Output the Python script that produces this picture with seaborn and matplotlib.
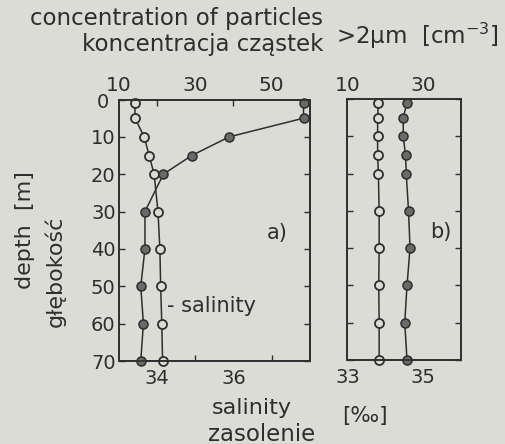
import matplotlib
matplotlib.use("Agg")
import matplotlib.pyplot as plt
import matplotlib.transforms as mtransforms
import seaborn as sns

# depth of samples [m]
depth = [1, 5, 10, 15, 20, 30, 40, 50, 60, 70]

# a) particle concentration >2um [cm-3] and salinity [permil]
a_conc = [58.3, 58.3, 38.9, 29.1, 21.7, 16.9, 16.9, 15.8, 16.5, 15.8]
a_sal = [33.43, 33.43, 33.67, 33.80, 33.93, 34.03, 34.08, 34.10, 34.13, 34.15]

# b)
b_conc = [25.8, 24.8, 24.8, 25.4, 25.6, 26.2, 26.6, 25.8, 25.2, 25.8]
b_sal = [33.82, 33.80, 33.80, 33.80, 33.82, 33.84, 33.84, 33.83, 33.84, 33.84]

depth_ticks = [0, 10, 20, 30, 40, 50, 60, 70]

bg = "#dcdcd6"
ink = "#2e2e2e"

sns.set_theme(style="ticks")
plt.rcParams.update({
    "font.family": ["DejaVu Sans"],
    "font.size": 14,
    "text.color": ink,
    "axes.edgecolor": ink,
    "axes.linewidth": 1.2,
    "xtick.color": ink,
    "ytick.color": ink,
    "xtick.labelcolor": ink,
    "ytick.labelcolor": ink,
})

fig = plt.figure(figsize=(5.05, 4.44), dpi=100, facecolor=bg)

ax_a = fig.add_axes([0.2347, 0.1869, 0.3792, 0.589])
ax_b = fig.add_axes([0.6881, 0.1892, 0.2238, 0.5878])

open_kw = dict(marker="o", markersize=6.5, markerfacecolor=bg,
               markeredgecolor=ink, markeredgewidth=1.3, color=ink,
               linewidth=1.1, clip_on=False)
fill_kw = dict(marker="o", markersize=6.5, markerfacecolor="#6a6a6a",
               markeredgecolor=ink, markeredgewidth=1.1, color=ink,
               linewidth=1.1, clip_on=False)


def setup(ax, sal_lim, conc_lim, ylabels):
    ax.set_facecolor("none")
    ax.set_xlim(*sal_lim)
    ax.set_ylim(70, 0)
    top = ax.twiny()
    top.set_facecolor("none")
    top.set_xlim(*conc_lim)
    for a in (ax, top):
        for s in a.spines.values():
            s.set_color(ink)
            s.set_linewidth(1.2)
    ax.set_yticks(depth_ticks)
    ax.set_yticklabels(depth_ticks if ylabels else [])
    ax.tick_params(axis="y", direction="in", length=4, width=1, left=True,
                   right=True, labelsize=14, pad=2)
    ax.set_xlabel("")
    ax.set_ylabel("")
    top.set_xlabel("")
    return top


top_a = setup(ax_a, (33, 38), (10, 60), True)
top_b = setup(ax_b, (33, 36), (10, 40), False)

# salinity (bottom) and concentration (top) labels, ticks drawn as minor
for ax, labels, ticks in ((ax_a, [34, 36], [34, 35, 36, 37]), (ax_b, [33, 35], [35])):
    ax.set_xticks(labels)
    ax.tick_params(axis="x", which="major", length=0, labelsize=14, pad=6)
    ax.set_xticks(ticks, minor=True)
    ax.tick_params(axis="x", which="minor", direction="in", length=4, width=1)
for top, labels, ticks in ((top_a, [10, 30, 50], [20, 30, 40, 50]), (top_b, [10, 30], [30])):
    top.set_xticks(labels)
    top.tick_params(axis="x", which="major", length=0, labelsize=14.5, pad=3)
    top.set_xticks(ticks, minor=True)
    top.tick_params(axis="x", which="minor", direction="in", length=4, width=1)

# the "0" depth label sits a little left, clear of the "10" above it
zero = ax_a.get_yticklabels()[0]
zero.set_transform(zero.get_transform()
                   + mtransforms.ScaledTranslation(-5 / 72, -1 / 72, fig.dpi_scale_trans))

sns.lineplot(x=a_sal, y=depth, ax=ax_a, sort=False, estimator=None, **open_kw)
sns.lineplot(x=a_conc, y=depth, ax=top_a, sort=False, estimator=None, **fill_kw)
sns.lineplot(x=b_sal, y=depth, ax=ax_b, sort=False, estimator=None, **open_kw)
sns.lineplot(x=b_conc, y=depth, ax=top_b, sort=False, estimator=None, **fill_kw)
for a in (ax_a, ax_b):
    a.set_ylim(70, 0)

ax_a.text(0.83, 0.49, "a)", transform=ax_a.transAxes, fontsize=15,
          ha="center", va="center", color=ink)
ax_b.text(0.83, 0.49, "b)", transform=ax_b.transAxes, fontsize=15,
          ha="center", va="center", color=ink)
ax_a.text(0.255, 0.21, "- salinity", transform=ax_a.transAxes, fontsize=15,
          ha="left", va="center", color=ink)

W, H = 505, 444


def ftext(x, y, s, **kw):
    fig.text(x / W, 1 - y / H, s, color=ink, **kw)


ftext(323, 19, "concentration of particles", fontsize=16.5, ha="right", va="center")
ftext(323, 45, "koncentracja cząstek", fontsize=16.5, ha="right", va="center")
ftext(336, 36, r">2$\mathregular{\mu}$m  [cm$^{-3}$]", fontsize=16.5, ha="left", va="center")
ftext(25, 230, "depth  [m]", fontsize=16, rotation=90, ha="center", va="center")
ftext(55, 271, "głębokość", fontsize=16, rotation=90, ha="center", va="center")
ftext(252, 408, "salinity", fontsize=16, ha="center", va="center")
ftext(262, 434, "zasolenie", fontsize=16.5, ha="center", va="center")
ftext(365, 416, "[‰]", fontsize=15.5, ha="center", va="center")

fig.savefig("out.png", dpi=100, facecolor=bg)
